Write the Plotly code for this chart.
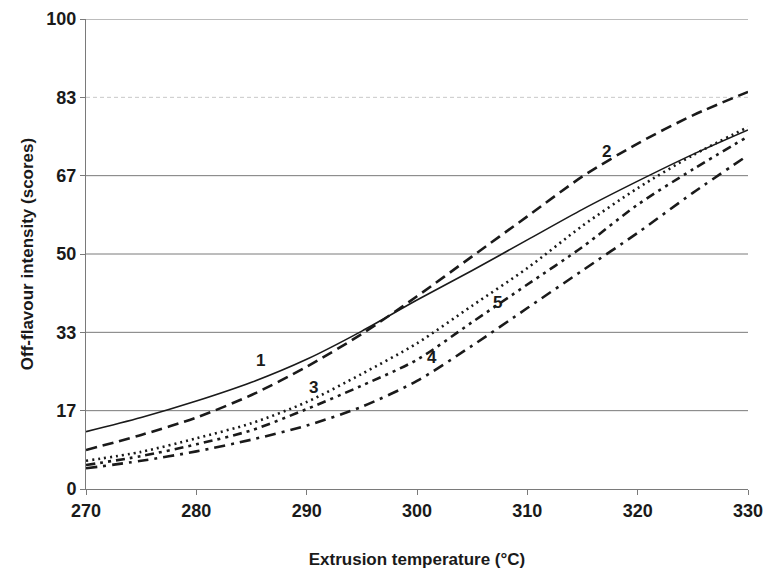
import plotly.graph_objects as go

temps = [270, 275, 280, 285, 290, 295, 300, 305, 310, 315, 320, 325, 330]
curve1 = [12.2, 15.2, 18.7, 22.7, 27.6, 33.6, 40.2, 46.5, 53.0, 59.5, 65.5, 71.2, 76.4]
curve2 = [8.3, 11.5, 15.2, 20.0, 26.0, 33.0, 41.0, 49.5, 58.0, 66.5, 73.5, 79.5, 84.5]
curve3 = [6.0, 7.9, 10.8, 14.0, 18.5, 24.5, 31.0, 39.0, 47.0, 56.0, 64.0, 71.0, 77.0]
curve4 = [4.4, 6.0, 8.0, 10.5, 13.5, 17.5, 23.0, 30.5, 38.5, 46.5, 54.5, 63.0, 71.0]
curve5 = [5.1, 7.0, 9.5, 12.5, 17.0, 22.0, 27.5, 35.5, 43.5, 51.5, 60.5, 68.0, 75.0]

x_ticks = [270, 280, 290, 300, 310, 320, 330]
y_tickvals = [0, 100/6, 200/6, 50, 400/6, 500/6, 100]
y_ticktext = ["0", "17", "33", "50", "67", "83", "100"]

label_text = ["1", "2", "3", "4", "5"]
label_x = [285.8, 317.2, 290.6, 301.4, 307.3]
label_y = [27.4, 71.9, 21.5, 27.9, 39.6]

fig = go.Figure()
styles = [
    (curve1, "solid", 1.6),
    (curve2, "11px,6px", 2.6),
    (curve3, "2px,4px", 2.6),
    (curve4, "11px,6px,3px,6px", 2.6),
    (curve5, "9px,5px,3px,5px,3px,5px", 2.6),
]
for ys, dash, w in styles:
    fig.add_trace(go.Scatter(x=temps, y=ys, mode="lines", line_shape="spline",
                             line=dict(color="#1a1a1a", width=w, dash=dash, smoothing=0.8),
                             showlegend=False, hoverinfo="skip"))

# gridlines as shapes
for v in y_tickvals[1:]:
    faint = abs(v - 500/6) < 1e-6
    fig.add_shape(type="line", xref="paper", yref="y", x0=0, x1=1, y0=v, y1=v,
                  line=dict(color="#c8c8c8" if faint else "#7a7a7a", width=1,
                            dash="4px,3px" if faint else "solid"),
                  layer="below")

for t, x, y in zip(label_text, label_x, label_y):
    fig.add_annotation(x=x, y=y, text="<b>%s</b>" % t, showarrow=False,
                       font=dict(family="Arial, Liberation Sans", size=17, color="#1a1a1a"))

fig.update_layout(
    width=766, height=569,
    margin=dict(l=86, r=18, t=19, b=80),
    plot_bgcolor="white", paper_bgcolor="white",
    font=dict(family="Arial, Liberation Sans", color="#1a1a1a"),
)
fig.update_xaxes(range=[270, 330], tickvals=x_ticks, showgrid=False, zeroline=False,
                 showline=True, linecolor="#7a7a7a", linewidth=1, automargin=False,
                 ticks="outside", ticklen=5, tickcolor="#7a7a7a",
                 tickfont=dict(size=18, family="Arial, Liberation Sans", weight="bold"),
                 title=dict(text="<b>Extrusion temperature (°C)</b>", font=dict(size=17), standoff=34))
fig.update_yaxes(range=[0, 100], tickvals=y_tickvals, ticktext=y_ticktext, showgrid=False,
                 zeroline=False, showline=True, linecolor="#7a7a7a", linewidth=1, automargin=False,
                 ticks="outside", ticklen=5, tickcolor="#7a7a7a",
                 tickfont=dict(size=18, family="Arial, Liberation Sans", weight="bold"),
                 title=dict(text="<b>Off-flavour intensity (scores)</b>", font=dict(size=17), standoff=8))

fig.write_html("out.html", config={"displayModeBar": False},
               post_script="document.body.style.margin='0';document.body.style.overflow='hidden';")
